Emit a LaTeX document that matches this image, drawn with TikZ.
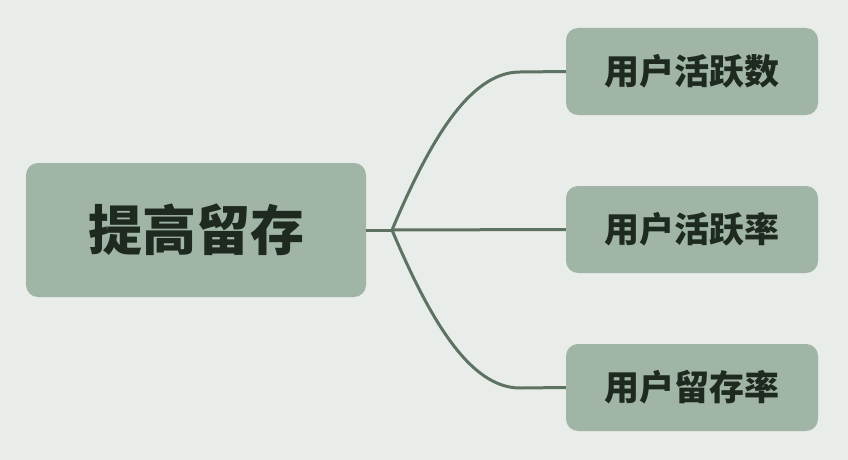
\documentclass[tikz,border=0pt]{standalone}
\usepackage{fontspec}
\newfontfamily\cjk{Noto Sans CJK SC}
\definecolor{bg}{HTML}{E8EDE9}
\definecolor{boxfill}{HTML}{A0B5A5}
\definecolor{linec}{HTML}{5E7262}
\definecolor{txt}{HTML}{1E2A20}
\tikzset{
  rootbox/.style={fill=boxfill, rounded corners=12pt, minimum width=340pt, minimum height=134pt, inner sep=0pt, text=txt, font=\cjk\bfseries\fontsize{54}{60}\selectfont},
  childbox/.style={fill=boxfill, rounded corners=12pt, minimum width=252pt, minimum height=87pt, inner sep=0pt, text=txt, font=\cjk\bfseries\fontsize{35}{40}\selectfont},
  conn/.style={draw=linec, line width=3pt}
}
\begin{document}
\begin{tikzpicture}[x=1pt,y=-1pt]
\fill[bg] (0,0) rectangle (848,460);
\useasboundingbox (0,0) rectangle (848,460);
\node[rootbox] (root) at (196,230) {提高留存};
\node[childbox] (c1) at (692,71.5) {用户活跃数};
\node[childbox] (c2) at (692,229.5) {用户活跃率};
\node[childbox] (c3) at (692,387.5) {用户留存率};
\coordinate (j) at (392,230);
\draw[conn] (root.east) -- (j);
\draw[conn] (j) .. controls (430,140) and (470,72) .. (520,72) -- (c1.west);
\draw[conn] (j) -- (c2.west);
\draw[conn] (j) .. controls (430,320) and (470,388) .. (520,388) -- (c3.west);
\end{tikzpicture}
\end{document}
